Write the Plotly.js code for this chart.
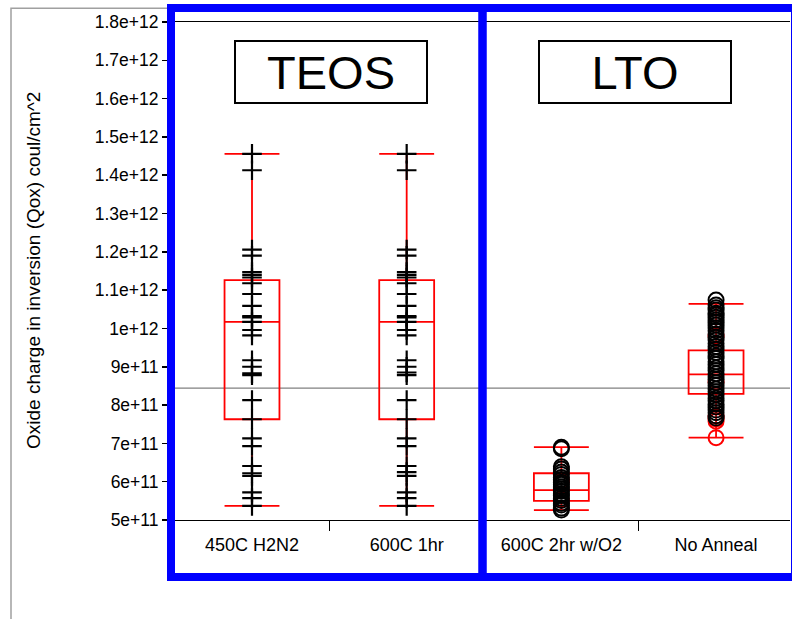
<!DOCTYPE html>
<html>
<head>
<meta charset="utf-8">
<script src="https://cdn.plot.ly/plotly-3.0.1.min.js"></script>
<style>html,body{margin:0;padding:0;background:#fff;}#chart{width:792px;height:619px;}</style>
</head>
<body>
<div id="chart"></div>
<script>
// ---- data ----
const categories = ["450C H2N2", "600C 1hr", "600C 2hr w/O2", "No Anneal"];
const groupLabels = ["TEOS", "LTO"];

const q1Values = [7.63e11, 7.63e11, 5.50e11, 8.29e11];
const medianValues = [1.017e12, 1.017e12, 5.78e11, 8.80e11];
const q3Values = [1.126e12, 1.126e12, 6.22e11, 9.43e11];
const lowerWhisker = [5.37e11, 5.37e11, 5.26e11, 7.15e11];
const upperWhisker = [1.456e12, 1.456e12, 6.90e11, 1.064e12];

const teos450 = [1.456e12, 1.413e12, 1.206e12, 1.190e12, 1.147e12, 1.140e12, 1.133e12, 1.118e12,
  1.090e12, 1.059e12, 1.032e12, 1.029e12, 1.017e12, 0.996e12, 0.982e12, 0.917e12, 0.900e12,
  0.883e12, 0.878e12, 0.813e12, 0.763e12, 0.713e12, 0.693e12, 0.641e12, 0.622e12, 0.615e12,
  0.572e12, 0.557e12, 0.537e12];
const teos600 = [1.456e12, 1.413e12, 1.206e12, 1.190e12, 1.147e12, 1.140e12, 1.133e12, 1.118e12,
  1.090e12, 1.059e12, 1.032e12, 1.029e12, 1.017e12, 0.996e12, 0.982e12, 0.917e12, 0.900e12,
  0.885e12, 0.878e12, 0.813e12, 0.763e12, 0.713e12, 0.693e12, 0.641e12, 0.625e12, 0.615e12,
  0.572e12, 0.557e12, 0.537e12];
const lto600Black = [6.90e11, 6.86e11, 6.39e11, 6.33e11, 6.25e11, 6.19e11, 6.11e11, 6.06e11, 5.98e11,
  5.93e11, 5.86e11, 5.81e11, 5.75e11, 5.68e11, 5.64e11, 5.57e11, 5.51e11, 5.44e11, 5.39e11, 5.31e11, 5.26e11];
const lto600Red = [5.53e11, 6.02e11];
const ltoNoneBlack = [1.074e12, 1.061e12, 1.054e12, 1.048e12, 1.040e12, 1.035e12, 1.029e12, 1.022e12,
  1.016e12, 1.009e12, 1.001e12, 0.994e12, 0.985e12, 0.977e12, 0.970e12, 0.961e12, 0.953e12, 0.946e12,
  0.937e12, 0.928e12, 0.922e12, 0.913e12, 0.906e12, 0.897e12, 0.890e12, 0.882e12, 0.873e12, 0.867e12,
  0.858e12, 0.851e12, 0.842e12, 0.835e12, 0.827e12, 0.818e12, 0.811e12, 0.802e12, 0.795e12, 0.787e12,
  0.780e12, 0.772e12, 0.766e12];
const ltoNoneRed = [7.15e11, 7.58e11, 7.64e11, 7.71e11, 8.60e11, 9.80e11];
const grandMean = 8.44e11;

const yTickVals = [5e11, 6e11, 7e11, 8e11, 9e11, 1e12, 1.1e12, 1.2e12, 1.3e12, 1.4e12, 1.5e12, 1.6e12, 1.7e12, 1.8e12];
const yTickText = ["5e+11", "6e+11", "7e+11", "8e+11", "9e+11", "1e+12", "1.1e+12", "1.2e+12", "1.3e+12",
  "1.4e+12", "1.5e+12", "1.6e+12", "1.7e+12", "1.8e+12"];
const yTitle = "Oxide charge in inversion (Qox) coul/cm^2";

// ---- traces ----
const rep = (cat, arr) => arr.map(() => cat);
const crossMarker = {symbol: "cross-thin", size: 14, color: "black", line: {color: "black", width: 2.2}};
const circleBlack = {symbol: "circle-open", size: 15, color: "black", line: {color: "black", width: 2}};
const circleRed = {symbol: "circle-open", size: 15, color: "red", line: {color: "red", width: 2}};

const traces = [
  {
    type: "box", x: categories, q1: q1Values, median: medianValues, q3: q3Values,
    lowerfence: lowerWhisker, upperfence: upperWhisker,
    width: 0.355, whiskerwidth: 1, boxpoints: false,
    line: {color: "red", width: 1.8}, fillcolor: "rgba(0,0,0,0)", showlegend: false, hoverinfo: "skip"
  },
  {type: "scatter", mode: "markers", x: rep(categories[0], teos450), y: teos450, marker: crossMarker, showlegend: false},
  {type: "scatter", mode: "markers", x: rep(categories[1], teos600), y: teos600, marker: crossMarker, showlegend: false},
  {type: "scatter", mode: "markers", x: rep(categories[2], lto600Red), y: lto600Red, marker: circleRed, showlegend: false},
  {type: "scatter", mode: "markers", x: rep(categories[3], ltoNoneRed), y: ltoNoneRed, marker: circleRed, showlegend: false},
  {type: "scatter", mode: "markers", x: rep(categories[2], lto600Black), y: lto600Black, marker: circleBlack, showlegend: false},
  {type: "scatter", mode: "markers", x: rep(categories[3], ltoNoneBlack), y: ltoNoneBlack, marker: circleBlack, showlegend: false}
];

// ---- layout ----
const L = 168, R = 790, T = 22, B = 520;
const px2x = p => (p - L) / (R - L);
const px2y = p => (B - p) / (B - T);

const layout = {
  width: 792, height: 619,
  margin: {l: L, r: 792 - R, t: T, b: 619 - B, pad: 0},
  paper_bgcolor: "white", plot_bgcolor: "white",
  font: {family: "Liberation Sans, Arial, sans-serif", color: "black"},
  showlegend: false,
  xaxis: {
    type: "category", categoryorder: "array", categoryarray: categories,
    range: [-0.543, 3.478], tickson: "boundaries",
    ticks: "outside", ticklen: 10, tickwidth: 1.5, tickcolor: "black",
    ticklabelstandoff: 8,
    showline: true, linecolor: "black", linewidth: 1, mirror: true,
    showgrid: false, zeroline: false,
    tickfont: {size: 18, color: "black"}
  },
  yaxis: {
    range: [5e11, 1.8e12], tickmode: "array", tickvals: yTickVals, ticktext: yTickText,
    ticks: "outside", ticklen: 5, tickwidth: 1.5, tickcolor: "black",
    showline: true, linecolor: "black", linewidth: 1,
    showgrid: false, zeroline: false,
    tickfont: {size: 17.5, color: "black"}
  },
  shapes: [
    {type: "line", xref: "paper", yref: "y", x0: 0, x1: 1, y0: grandMean, y1: grandMean,
      line: {color: "#808080", width: 1.2}, layer: "below"},
    {type: "rect", xref: "paper", yref: "paper", x0: px2x(11), x1: px2x(900), y0: px2y(700), y1: px2y(8.3),
      line: {color: "#a0a0a0", width: 1.5}, layer: "above"},
    {type: "rect", xref: "paper", yref: "paper", x0: px2x(171), x1: px2x(482.5), y0: px2y(577), y1: px2y(8),
      line: {color: "#0000ff", width: 8}, layer: "above"},
    {type: "rect", xref: "paper", yref: "paper", x0: px2x(482.5), x1: px2x(795), y0: px2y(577), y1: px2y(8),
      line: {color: "#0000ff", width: 8}, layer: "above"}
  ],
  annotations: [
    {xref: "paper", yref: "paper", x: px2x(330.5), y: px2y(71.5), xanchor: "center", yanchor: "middle",
      text: groupLabels[0], showarrow: false, font: {size: 47, color: "black"},
      width: 188, height: 58, bordercolor: "black", borderwidth: 2, borderpad: 1, bgcolor: "white"},
    {xref: "paper", yref: "paper", x: px2x(635), y: px2y(71.5), xanchor: "center", yanchor: "middle",
      text: groupLabels[1], showarrow: false, font: {size: 47, color: "black"},
      width: 188, height: 58, bordercolor: "black", borderwidth: 2, borderpad: 1, bgcolor: "white"},
    {xref: "paper", yref: "paper", x: px2x(33), y: px2y(271), xanchor: "center", yanchor: "middle",
      text: yTitle, textangle: -90, showarrow: false, font: {size: 19, color: "black"}}
  ]
};

Plotly.newPlot("chart", traces, layout, {staticPlot: true, displayModeBar: false});
</script>
</body>
</html>
